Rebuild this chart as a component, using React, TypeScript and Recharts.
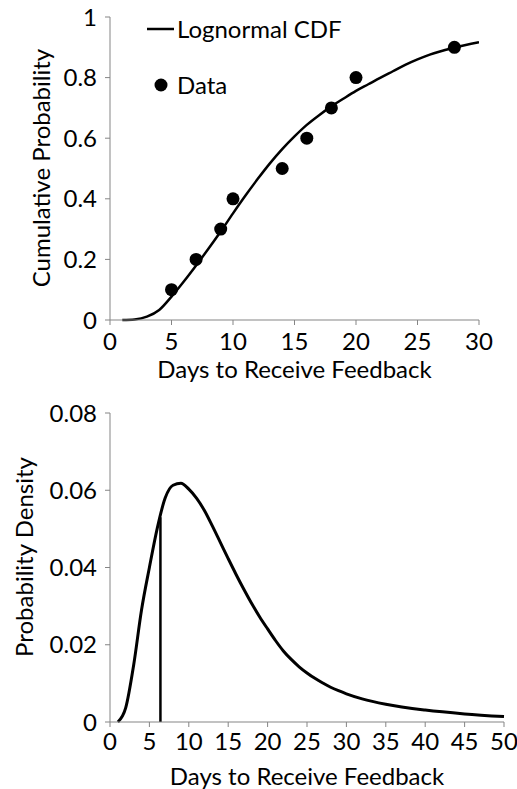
import React from 'react';
import {
  ComposedChart,
  LineChart,
  Line,
  Scatter,
  XAxis,
  YAxis,
  Legend,
  ReferenceLine,
} from 'recharts';

// fitted lognormal CDF
const cdfDays = [1, 2, 3, 4, 5, 6, 7, 8, 9, 10, 11, 12, 13, 14, 15, 16, 17, 18, 19, 20, 21, 22, 23, 24, 25, 26, 28, 30];
const cdfValues = [0, 0.002, 0.011, 0.033, 0.077, 0.127, 0.18, 0.235, 0.292, 0.352, 0.41, 0.465, 0.517, 0.564, 0.606, 0.644, 0.676, 0.705, 0.731, 0.756, 0.778, 0.8, 0.821, 0.842, 0.86, 0.876, 0.899, 0.917];

// observed points
const obsDays = [5, 7, 9, 10, 14, 16, 18, 20, 28];
const obsProb = [0.1, 0.2, 0.3, 0.4, 0.5, 0.6, 0.7, 0.8, 0.9];

// lognormal PDF
const pdfDays = [1, 2, 3, 4, 5, 6, 7, 8, 9, 10, 11, 12, 13, 14, 15, 16, 17, 18, 19, 20, 21, 22, 23, 24, 25, 26, 27, 28, 29, 30, 32, 35, 40, 45, 50];
const pdfValues = [0, 0.0037, 0.0147, 0.029, 0.04, 0.0502, 0.058, 0.0613, 0.0618, 0.0603, 0.0579, 0.0547, 0.0507, 0.0465, 0.0423, 0.0382, 0.0343, 0.0306, 0.0272, 0.0241, 0.0211, 0.0184, 0.0162, 0.0143, 0.0127, 0.0113, 0.0101, 0.009, 0.0081, 0.0073, 0.006, 0.0046, 0.0031, 0.0021, 0.0014];

const cutoffDay = 6.4;
const cutoffDensity = 0.053;

const topXTicks = [0, 5, 10, 15, 20, 25, 30];
const topYTicks = [0, 0.2, 0.4, 0.6, 0.8, 1];
const botXTicks = [0, 5, 10, 15, 20, 25, 30, 35, 40, 45, 50];
const botYTicks = [0, 0.02, 0.04, 0.06, 0.08];

const cdfData = cdfDays.map((d, i) => ({ day: d, p: cdfValues[i] }));
const obsData = obsDays.map((d, i) => ({ day: d, p: obsProb[i] }));
const pdfData = pdfDays.map((d, i) => ({ day: d, density: pdfValues[i] }));

const FONT = 'Lato, "Open Sans", sans-serif';
const FS = 24;
const AXIS = '#858585';
const tickStyle = { fontSize: FS, fill: '#000', fontFamily: FONT };

function VerticalTitle(props: any) {
  const { posX, posY, text } = props;
  return (
    <text
      x={posX}
      y={posY}
      transform={`rotate(-90, ${posX}, ${posY})`}
      textAnchor="middle"
      dominantBaseline="central"
      fontSize={FS}
      fontFamily={FONT}
      fill="#000"
    >
      {text}
    </text>
  );
}

function CdfLegend() {
  return (
    <div style={{ fontFamily: FONT, fontSize: FS, lineHeight: 1, color: '#000' }}>
      <div style={{ display: 'flex', alignItems: 'center', height: 30 }}>
        <svg width={30} height={10}>
          <line x1={0} y1={5} x2={27} y2={5} stroke="#000" strokeWidth={2.5} />
        </svg>
        <span>Lognormal CDF</span>
      </div>
      <div style={{ display: 'flex', alignItems: 'center', height: 30, marginTop: 26 }}>
        <svg width={30} height={16}>
          <circle cx={14} cy={8} r={6.5} fill="#000" />
        </svg>
        <span>Data</span>
      </div>
    </div>
  );
}

export default function App() {
  return (
    <div style={{ position: 'absolute', left: 0, top: 0, width: 517, height: 789, background: '#fff' }}>
      <ComposedChart width={517} height={390} margin={{ top: 17, right: 38, bottom: 0, left: 0 }}>
        <XAxis
          type="number"
          dataKey="day"
          domain={[0, 30]}
          ticks={topXTicks}
          allowDataOverflow
          height={70}
          stroke={AXIS}
          tickSize={5}
          tickMargin={8}
          tick={tickStyle}
          label={{ value: 'Days to Receive Feedback', position: 'insideTop', offset: 41, fontSize: FS, fill: '#000', fontFamily: FONT }}
        />
        <YAxis
          type="number"
          domain={[0, 1]}
          ticks={topYTicks}
          width={110}
          stroke={AXIS}
          tickSize={5}
          tickMargin={8}
          tick={tickStyle}
          label={<VerticalTitle posX={40} posY={168} text="Cumulative Probability" />}
        />
        <Legend
          layout="vertical"
          align="center"
          verticalAlign="middle"
          wrapperStyle={{ left: 147, top: 14, width: 'auto' }}
          content={() => <CdfLegend />}
        />
        <Line
          data={cdfData}
          dataKey="p"
          type="monotone"
          stroke="#000"
          strokeWidth={2.5}
          dot={false}
          isAnimationActive={false}
        />
        <Scatter data={obsData} dataKey="p" fill="#000" shape={(p: any) => <circle cx={p.cx} cy={p.cy} r={6.5} fill="#000" />} isAnimationActive={false} />
      </ComposedChart>

      <LineChart width={517} height={399} data={pdfData} margin={{ top: 23, right: 13, bottom: 0, left: 0 }}>
        <XAxis
          type="number"
          dataKey="day"
          domain={[0, 50]}
          ticks={botXTicks}
          height={67}
          stroke={AXIS}
          tickSize={5}
          tickMargin={6}
          tick={tickStyle}
          label={{ value: 'Days to Receive Feedback', position: 'insideTop', offset: 46, fontSize: FS, fill: '#000', fontFamily: FONT }}
        />
        <YAxis
          type="number"
          domain={[0, 0.08]}
          ticks={botYTicks}
          width={110}
          stroke={AXIS}
          tickSize={5}
          tickMargin={8}
          tick={tickStyle}
          label={<VerticalTitle posX={23} posY={167} text="Probability Density" />}
        />
        <Line
          dataKey="density"
          type="monotone"
          stroke="#000"
          strokeWidth={3}
          dot={false}
          isAnimationActive={false}
        />
        <ReferenceLine
          segment={[{ x: cutoffDay, y: 0 }, { x: cutoffDay, y: cutoffDensity }]}
          stroke="#000"
          strokeWidth={2.5}
        />
      </LineChart>
    </div>
  );
}
